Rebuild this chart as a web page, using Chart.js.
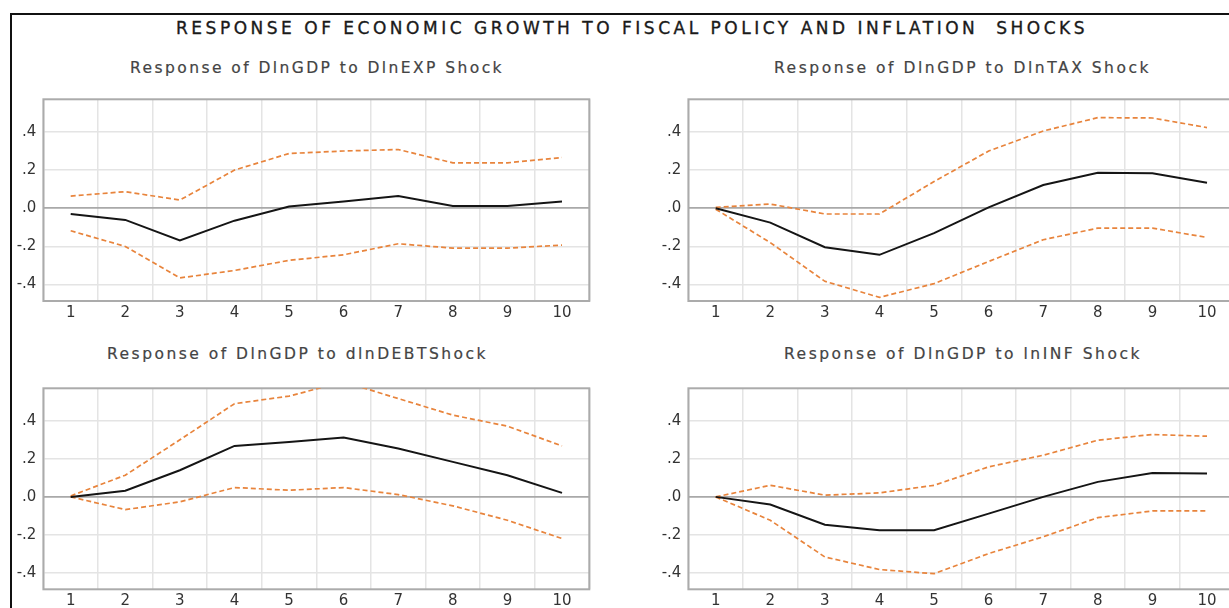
<!DOCTYPE html>
<html>
<head>
<meta charset="utf-8">
<title>Response of economic growth to fiscal policy and inflation shocks</title>
<script src="https://cdn.jsdelivr.net/npm/chart.js@4.4.1/dist/chart.umd.min.js"></script>
<style>
  html, body { margin: 0; padding: 0; background: #fff; }
  body { width: 1229px; height: 608px; overflow: hidden; position: relative; font-family: "DejaVu Sans", sans-serif; }
  #frame { position: absolute; left: 10px; top: 13px; width: 1300px; height: 700px;
           border-top: 2px solid #111; border-left: 2px solid #111; }
  .txt { position: absolute; white-space: pre; line-height: 1; transform: translateY(-50%); }
  #title { font-size: 17px; color: #1a1a1a; top: 28px; left: 176px; -webkit-text-stroke: 0.35px #1a1a1a; }
  .sub { font-size: 15.5px; color: #444; -webkit-text-stroke: 0.2px #444; }
  canvas { position: absolute; }
</style>
</head>
<body>
<div id="frame"></div>
<div id="title" class="txt" data-w="912">RESPONSE OF ECONOMIC GROWTH TO FISCAL POLICY AND INFLATION  SHOCKS</div>
<div class="txt sub" style="left:130px;top:69px" data-w="374">Response of DlnGDP to DlnEXP Shock</div>
<div class="txt sub" style="left:774px;top:69px" data-w="377">Response of DlnGDP to DlnTAX Shock</div>
<div class="txt sub" style="left:107px;top:355px" data-w="381">Response of DlnGDP to dlnDEBTShock</div>
<div class="txt sub" style="left:784px;top:355px" data-w="358">Response of DlnGDP to lnINF Shock</div>

<canvas id="pExp"  width="600" height="250" style="left:0px;top:80px"></canvas>
<canvas id="pTax"  width="600" height="250" style="left:645px;top:80px"></canvas>
<canvas id="pDebt" width="600" height="238" style="left:0px;top:370px"></canvas>
<canvas id="pInf"  width="600" height="238" style="left:645px;top:370px"></canvas>

<script>
// Periods after the shock
const steps = ['1', '2', '3', '4', '5', '6', '7', '8', '9', '10'];

// Vertical axis ticks and their labels
const yTicks      = [-0.4, -0.2, 0, 0.2, 0.4];
const yTickLabels = ['-.4', '-.2', '.0', '.2', '.4'];
const yMin = -0.486;
const yMax = 0.571;

// Response of DlnGDP to a DlnEXP shock (response, upper and lower band)
const expResp  = [-0.030, -0.061, -0.169, -0.065, 0.009, 0.035, 0.064, 0.012, 0.012, 0.035];
const expUpper = [0.064, 0.087, 0.043, 0.200, 0.287, 0.300, 0.308, 0.238, 0.238, 0.266];
const expLower = [-0.118, -0.200, -0.365, -0.326, -0.273, -0.244, -0.186, -0.209, -0.209, -0.193];

// Response of DlnGDP to a DlnTAX shock
const taxResp  = [0.000, -0.075, -0.204, -0.244, -0.130, 0.005, 0.122, 0.186, 0.183, 0.134];
const taxUpper = [0.005, 0.022, -0.030, -0.030, 0.140, 0.300, 0.405, 0.475, 0.473, 0.423];
const taxLower = [-0.005, -0.180, -0.383, -0.467, -0.395, -0.279, -0.165, -0.104, -0.104, -0.153];

// Response of DlnGDP to a dlnDEBT shock
const debtResp  = [0.000, 0.032, 0.140, 0.268, 0.289, 0.312, 0.254, 0.184, 0.114, 0.021];
const debtUpper = [0.005, 0.114, 0.300, 0.490, 0.530, 0.605, 0.517, 0.430, 0.372, 0.268];
const debtLower = [0.000, -0.067, -0.026, 0.049, 0.035, 0.049, 0.012, -0.047, -0.123, -0.219];

// Response of DlnGDP to a lnINF shock
const infResp  = [0.000, -0.040, -0.146, -0.175, -0.175, -0.088, 0.000, 0.079, 0.126, 0.123];
const infUpper = [0.000, 0.061, 0.009, 0.021, 0.061, 0.158, 0.219, 0.298, 0.328, 0.319];
const infLower = [0.000, -0.123, -0.316, -0.382, -0.404, -0.298, -0.210, -0.109, -0.074, -0.074];

// Stretch heading text to its column width
document.querySelectorAll('.txt[data-w]').forEach(el => {
  el.style.letterSpacing = '0px';
  const natural = el.getBoundingClientRect().width;
  const n = el.textContent.length;
  el.style.letterSpacing = ((+el.dataset.w - natural) / n) + 'px';
});

// Grey box round each plot area
const plotFrame = {
  id: 'plotFrame',
  beforeDatasetsDraw(chart) {
    const a = chart.chartArea, ctx = chart.ctx;
    ctx.save();
    ctx.strokeStyle = '#ababab';
    ctx.lineWidth = 2;
    ctx.strokeRect(a.left, a.top, a.right - a.left, a.bottom - a.top);
    ctx.restore();
  }
};

const tickFont = { family: 'DejaVu Sans', size: 15 };
const bandColor = '#e8843c';

function buildPanel(id, resp, upper, lower, areaTop, areaBottom, canvasTop) {
  const el = document.getElementById(id);
  const axisHeight = canvasTop + el.height - areaBottom;
  new Chart(el, {
    type: 'line',
    data: {
      labels: steps,
      datasets: [
        { data: resp,  borderColor: '#151515', borderWidth: 2,   pointRadius: 0, tension: 0, fill: false },
        { data: upper, borderColor: bandColor, borderWidth: 1.7, borderDash: [5, 3], pointRadius: 0, tension: 0, fill: false },
        { data: lower, borderColor: bandColor, borderWidth: 1.7, borderDash: [5, 3], pointRadius: 0, tension: 0, fill: false }
      ]
    },
    options: {
      responsive: false,
      animation: false,
      events: [],
      layout: { padding: { left: 0, right: 10.7, top: areaTop - canvasTop, bottom: 0 } },
      plugins: { legend: { display: false }, title: { display: false }, tooltip: { enabled: false } },
      scales: {
        x: {
          type: 'category',
          offset: true,
          grid: { offset: true, color: '#e4e4e4', lineWidth: 1.5, drawTicks: false },
          border: { display: false },
          ticks: { color: '#333', font: tickFont, padding: 3, maxRotation: 0, autoSkip: false },
          afterFit(s) { s.height = axisHeight; }
        },
        y: {
          type: 'linear',
          min: yMin,
          max: yMax,
          grid: {
            color: c => (c.tick && c.tick.value === 0) ? '#a9a9a9' : '#e4e4e4',
            lineWidth: c => (c.tick && c.tick.value === 0) ? 1.8 : 1.5,
            drawTicks: false
          },
          border: { display: false },
          ticks: {
            color: '#333', font: tickFont, padding: 7,
            callback: v => yTickLabels[yTicks.indexOf(v)]
          },
          afterBuildTicks(s) { s.ticks = yTicks.map(v => ({ value: v })); },
          afterFit(s) { s.width = 43.4; }
        }
      }
    },
    plugins: [plotFrame]
  });
}

buildPanel('pExp',  expResp,  expUpper,  expLower,  99.3, 301, 80);
buildPanel('pTax',  taxResp,  taxUpper,  taxLower,  99.3, 301, 80);
buildPanel('pDebt', debtResp, debtUpper, debtLower, 388.3, 589.3, 370);
buildPanel('pInf',  infResp,  infUpper,  infLower,  388.3, 589.3, 370);
</script>
</body>
</html>
